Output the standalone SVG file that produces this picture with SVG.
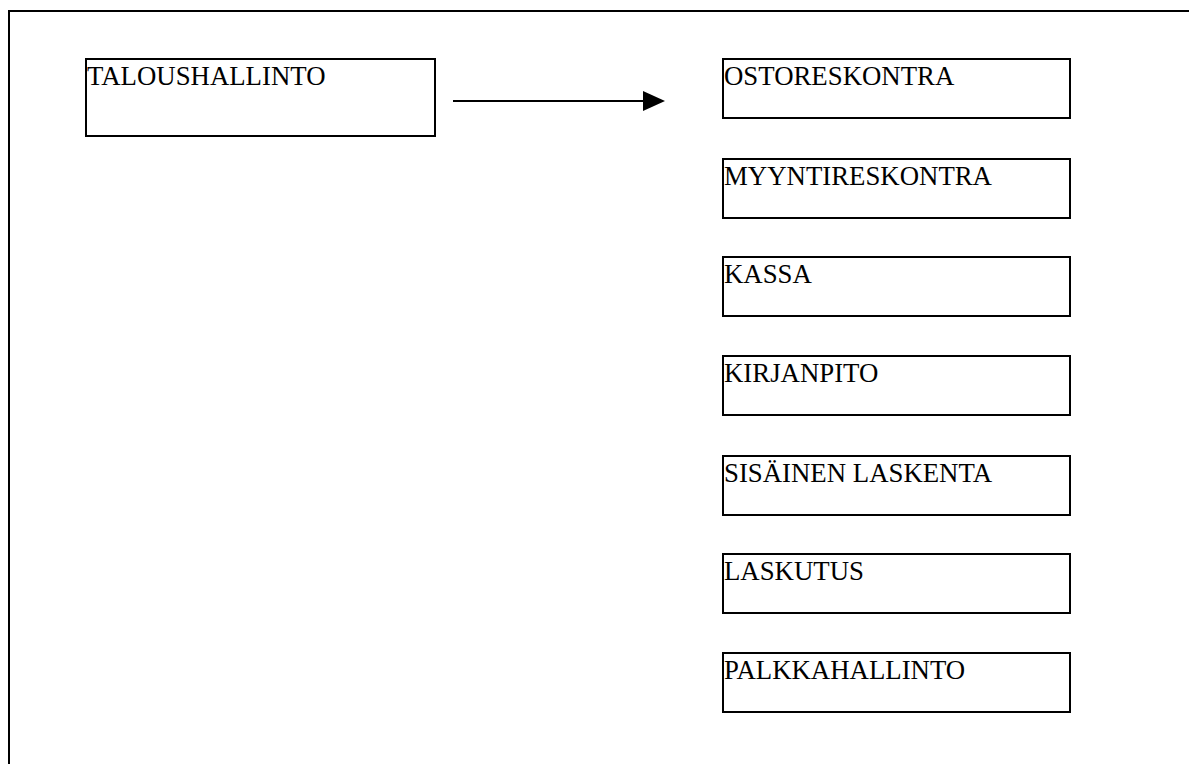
<svg xmlns="http://www.w3.org/2000/svg" width="1189" height="764" viewBox="0 0 1189 764">
  <defs>
    <style>
      .box { fill: #ffffff; stroke: #000000; stroke-width: 2; }
      .frame { fill: none; stroke: #000000; stroke-width: 2; }
      .label { font-family: "Liberation Serif", "Times New Roman", serif; font-size: 26.8px; fill: #000000; }
      .link { stroke: #000000; stroke-width: 2; fill: none; }
    </style>
  </defs>
  <rect width="1189" height="764" fill="#ffffff"/>

  <!-- page frame: top and left edges -->
  <path class="frame" d="M9,764 L9,11 L1189,11"/>

  <g id="taloushallinto">
    <rect class="box" x="86" y="59" width="349" height="77"/>
    <text class="label" x="87" y="85">TALOUSHALLINTO</text>
  </g>

  <g id="connectors">
    <line class="link" x1="453" y1="101" x2="644" y2="101"/>
    <path d="M643,91 L665,101 L643,111 Z" fill="#000000"/>
  </g>

  <g id="ostoreskontra">
    <rect class="box" x="723" y="59" width="347" height="59"/>
    <text class="label" x="724" y="85">OSTORESKONTRA</text>
  </g>
  <g id="myyntireskontra">
    <rect class="box" x="723" y="159" width="347" height="59"/>
    <text class="label" x="724" y="185">MYYNTIRESKONTRA</text>
  </g>
  <g id="kassa">
    <rect class="box" x="723" y="257" width="347" height="59"/>
    <text class="label" x="724" y="283">KASSA</text>
  </g>
  <g id="kirjanpito">
    <rect class="box" x="723" y="356" width="347" height="59"/>
    <text class="label" x="724" y="382">KIRJANPITO</text>
  </g>
  <g id="sisainen-laskenta">
    <rect class="box" x="723" y="456" width="347" height="59"/>
    <text class="label" x="724" y="482">SISÄINEN LASKENTA</text>
  </g>
  <g id="laskutus">
    <rect class="box" x="723" y="554" width="347" height="59"/>
    <text class="label" x="724" y="580">LASKUTUS</text>
  </g>
  <g id="palkkahallinto">
    <rect class="box" x="723" y="653" width="347" height="59"/>
    <text class="label" x="724" y="679">PALKKAHALLINTO</text>
  </g>
</svg>
